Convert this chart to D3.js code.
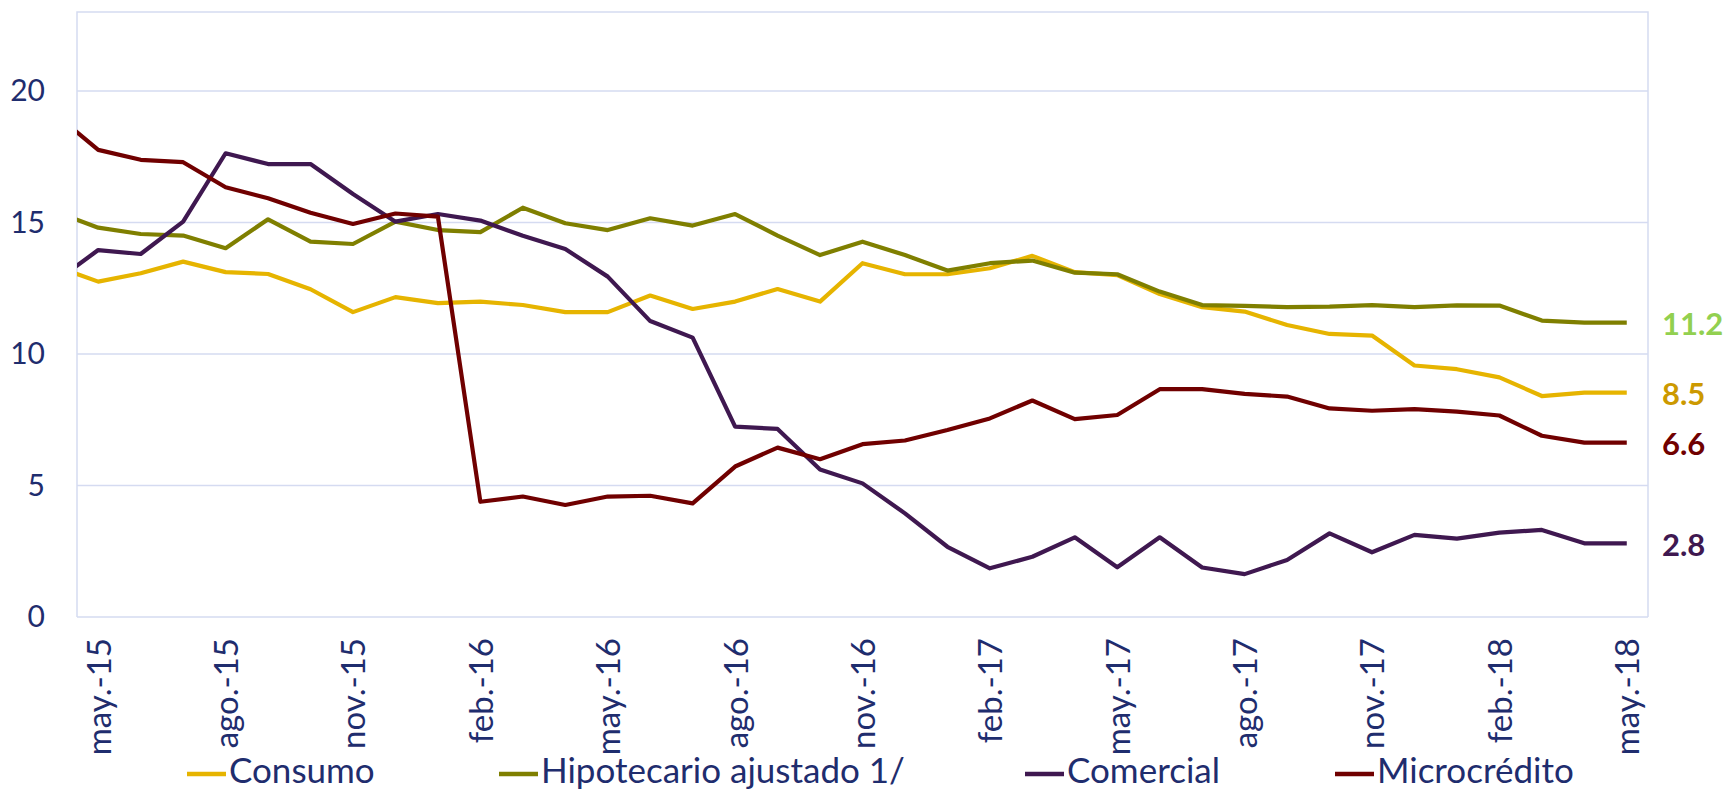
<!DOCTYPE html>
<html>
<head>
<meta charset="utf-8">
<script src="https://cdn.jsdelivr.net/npm/d3@7"></script>
<style>
  html, body { margin: 0; padding: 0; background: #ffffff; }
  svg { display: block; }
  text { font-family: Lato, "Open Sans", sans-serif; }
</style>
</head>
<body>
<svg id="chart" width="1726" height="792"></svg>
<script>
// ---- data ----
const categories = ["abr.-15","may.-15","jun.-15","jul.-15","ago.-15","sep.-15","oct.-15","nov.-15","dic.-15",
  "ene.-16","feb.-16","mar.-16","abr.-16","may.-16","jun.-16","jul.-16","ago.-16","sep.-16","oct.-16","nov.-16","dic.-16",
  "ene.-17","feb.-17","mar.-17","abr.-17","may.-17","jun.-17","jul.-17","ago.-17","sep.-17","oct.-17","nov.-17","dic.-17",
  "ene.-18","feb.-18","mar.-18","abr.-18","may.-18"];
const tickLabels = ["may.-15","ago.-15","nov.-15","feb.-16","may.-16","ago.-16","nov.-16","feb.-17","may.-17","ago.-17","nov.-17","feb.-18","may.-18"];
const yTicks = [0, 5, 10, 15, 20];

const consumo = [13.33, 12.75, 13.07, 13.51, 13.11, 13.04, 12.46, 11.59, 12.16, 11.93, 11.99, 11.86, 11.59, 11.59, 12.22, 11.71,
  11.99, 12.47, 11.99, 13.45, 13.03, 13.03, 13.26, 13.73, 13.11, 13.00, 12.28, 11.78, 11.61, 11.10, 10.76, 10.70, 9.56, 9.42, 9.11, 8.40, 8.53, 8.53];
const hipotecario = [15.40, 14.80, 14.56, 14.50, 14.02, 15.12, 14.27, 14.18, 15.03, 14.71, 14.63, 15.56, 14.97, 14.71, 15.16, 14.88,
  15.32, 14.50, 13.76, 14.27, 13.76, 13.17, 13.45, 13.55, 13.09, 13.03, 12.37, 11.86, 11.83, 11.78, 11.80, 11.86, 11.78, 11.85, 11.84, 11.27, 11.19, 11.19];
const comercial = [12.77, 13.95, 13.80, 15.03, 17.63, 17.22, 17.22, 16.08, 15.03, 15.32, 15.07, 14.49, 13.99, 12.94, 11.25, 10.62,
  7.24, 7.15, 5.61, 5.08, 3.94, 2.67, 1.85, 2.29, 3.03, 1.89, 3.03, 1.88, 1.63, 2.17, 3.18, 2.46, 3.12, 2.98, 3.21, 3.31, 2.80, 2.80];
const microcredito = [19.10, 17.76, 17.38, 17.29, 16.34, 15.92, 15.37, 14.94, 15.34, 15.22, 4.38, 4.58, 4.26, 4.58, 4.61, 4.32,
  5.72, 6.44, 6.00, 6.57, 6.71, 7.11, 7.55, 8.23, 7.52, 7.68, 8.66, 8.66, 8.48, 8.38, 7.93, 7.84, 7.90, 7.81, 7.66, 6.89, 6.63, 6.63];

const seriesNames = ["Consumo", "Hipotecario ajustado 1/", "Comercial", "Microcrédito"];
const seriesColors = ["#E6B400", "#7F7F00", "#3F1850", "#700000"];
const endLabels = ["8.5", "11.2", "2.8", "6.6"];
const endLabelColors = ["#CC9900", "#92D050", "#3F1850", "#700000"];

// ---- layout ----
const svg = d3.select("#chart");
const pLeft = 77, pRight = 1648, pTop = 12, pBottom = 617;
const textColor = "#1F2D6E";
const gridColor = "#D5DBF1";

const x = d3.scaleLinear().domain([0.5, categories.length - 0.5]).range([pLeft, pRight]);
const y = d3.scaleLinear().domain([0, 23]).range([pBottom, pTop]);

// gridlines
svg.append("g").selectAll("line").data(yTicks).join("line")
  .attr("x1", pLeft).attr("x2", pRight)
  .attr("y1", d => y(d)).attr("y2", d => y(d))
  .attr("stroke", gridColor).attr("stroke-width", 1.5);
// plot border (left, top, right)
svg.append("path")
  .attr("d", `M${pLeft},${y(0)}V${y(23)}H${pRight}V${y(0)}`)
  .attr("fill", "none").attr("stroke", gridColor).attr("stroke-width", 1.5);

// y axis
const yAxis = d3.axisLeft(y).tickValues(yTicks).tickSize(0).tickPadding(0).tickFormat(d3.format("d"));
const gy = svg.append("g").attr("transform", `translate(45,0)`).call(yAxis);
gy.select(".domain").remove();
gy.selectAll("text").attr("fill", textColor).style("font-size", "30px").style("font-family", "Lato");

// x axis
const tickIdx = tickLabels.map(t => categories.indexOf(t));
const xAxis = d3.axisBottom(x).tickValues(tickIdx).tickSize(0).tickFormat(i => categories[i]);
const gx = svg.append("g").attr("transform", `translate(0,${pBottom})`).call(xAxis);
gx.select(".domain").remove();
gx.selectAll("text")
  .attr("fill", textColor)
  .style("font-size", "33px").style("font-family", "Lato")
  .attr("text-anchor", "end")
  .attr("transform", "rotate(-90)")
  .attr("x", -21).attr("y", 0).attr("dy", "0.36em");

// clip
svg.append("clipPath").attr("id", "plotclip").append("rect")
  .attr("x", pLeft).attr("y", pTop - 10).attr("width", pRight - pLeft).attr("height", pBottom - pTop + 20);

const allSeries = [consumo, hipotecario, comercial, microcredito];
const line = d3.line().x((d, i) => x(i)).y(d => y(d));
svg.append("g").attr("clip-path", "url(#plotclip)").selectAll("path").data(allSeries).join("path")
  .attr("d", line)
  .attr("fill", "none")
  .attr("stroke", (d, i) => seriesColors[i])
  .attr("stroke-width", 4.2)
  .attr("stroke-linejoin", "round");

// end labels
svg.append("g").selectAll("text").data(allSeries).join("text")
  .attr("x", 1662)
  .attr("y", d => y(d[d.length - 1]) + 1)
  .attr("dy", "0.36em")
  .attr("fill", (d, i) => endLabelColors[i])
  .style("font-size", "31px").style("font-weight", "bold")
  .text((d, i) => endLabels[i]);

// legend
const legendX = [187, 499, 1025, 1335];
const legendY = 774;
const lg = svg.append("g").selectAll("g").data(seriesNames).join("g")
  .attr("transform", (d, i) => `translate(${legendX[i]},${legendY})`);
lg.append("line").attr("x1", 0).attr("x2", 39).attr("y1", 0).attr("y2", 0)
  .attr("stroke", (d, i) => seriesColors[i]).attr("stroke-width", 4.5);
lg.append("text").attr("x", 42).attr("y", 9)
  .attr("fill", textColor).style("font-size", "35px")
  .text(d => d);
</script>
</body>
</html>
